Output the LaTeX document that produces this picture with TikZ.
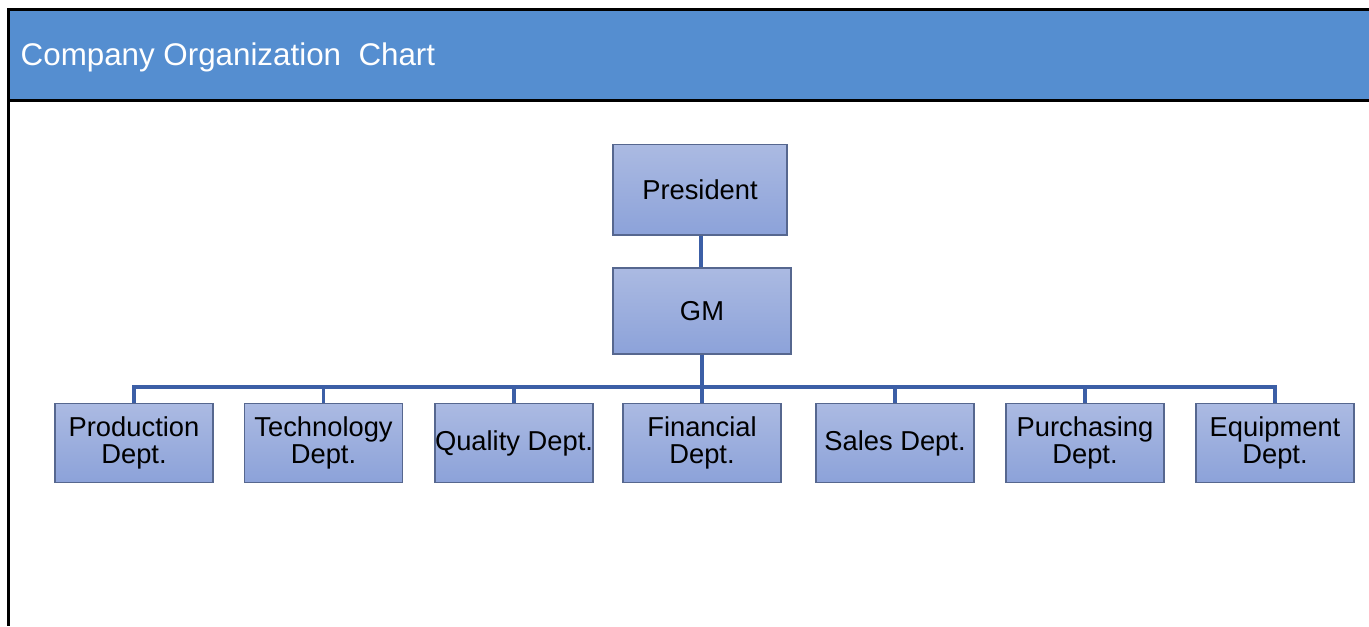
\documentclass[tikz,border=0pt]{standalone}
\usepackage{fontspec}
\setmainfont{Liberation Sans}
\definecolor{headblue}{HTML}{558ED0}
\definecolor{boxtop}{HTML}{ABBAE2}
\definecolor{boxbot}{HTML}{8CA2D9}
\definecolor{boxline}{HTML}{56678F}
\definecolor{linkblue}{HTML}{3C5FA6}
\tikzset{
  orgbox/.style={draw=boxline, line width=1pt, top color=boxtop, bottom color=boxbot,
    align=center, inner sep=0pt, font=\fontsize{20.5}{20.5}\selectfont},
  dept/.style={orgbox, minimum width=118.5pt, minimum height=59pt},
  link/.style={draw=linkblue, line width=2.3pt}
}
\begin{document}
\begin{tikzpicture}[x=0.75pt, y=-0.75pt]
  \useasboundingbox (0,0) rectangle (1369,626);
  % header
  \fill[headblue] (8,9) rectangle (1369,100);
  \draw[line width=2.25pt] (8,9) -- (1369,9);
  \draw[line width=2.25pt] (8,100) -- (1369,100);
  \draw[line width=2.25pt] (8.5,8) -- (8.5,626);
  \node[anchor=west, text=white, font=\fontsize{23.5}{26}\selectfont] (title) at (16,57) {Company Organization\ \ Chart};
  % top of the chart
  \node[orgbox, minimum width=130.5pt, minimum height=68pt] (pres) at (700,189.5) {President};
  \node[orgbox, minimum width=133.5pt, minimum height=64.5pt] (gm) at (702,311) {GM};
  \draw[link] ([xshift=0.75pt]pres.south) -- ([xshift=0.75pt]pres.south |- gm.north);
  \coordinate (bus) at (702,387);
  \draw[link] (gm) -- (bus);
  % departments
  \foreach \name/\xpos/\txt in {prod/134/Production\\Dept., tech/323.5/Technology\\Dept.,
      qual/514/Quality Dept., fin/702/Financial\\Dept., sales/895/Sales Dept.,
      purch/1085/Purchasing\\Dept., equip/1275/Equipment\\Dept.} {
    \node[dept] (\name) at (\xpos,443) {\txt};
    \draw[link] (bus) -| (\name.north);
  }
\end{tikzpicture}
\end{document}
